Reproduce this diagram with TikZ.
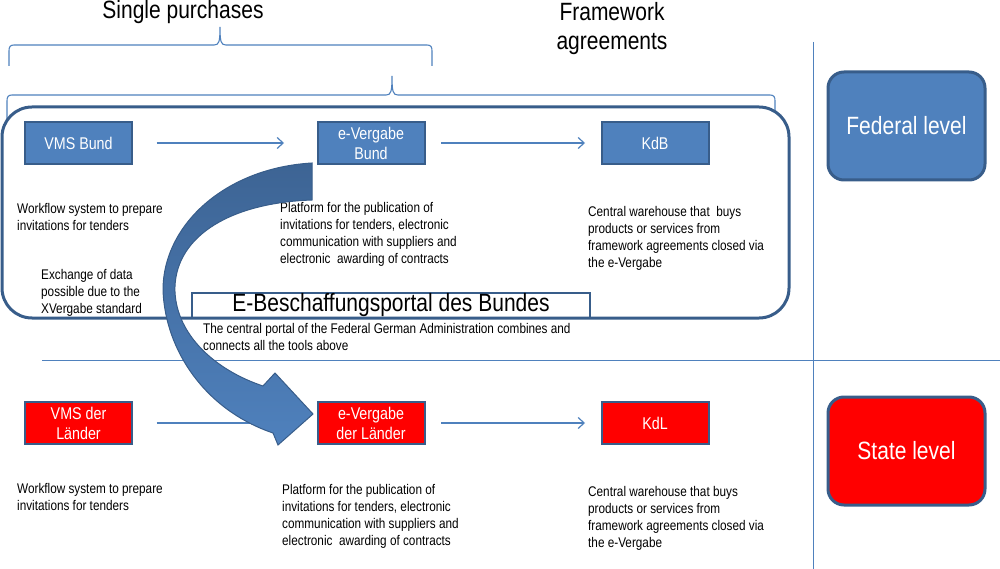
\documentclass[tikz,border=0pt]{standalone}
\usepackage{fontspec}
\setmainfont{Liberation Sans}[FakeStretch=0.84]
\usetikzlibrary{arrows.meta}
\definecolor{bfill}{HTML}{4F81BD}
\definecolor{bline}{HTML}{385D8A}
\definecolor{rfill}{HTML}{FF0000}
\definecolor{adark}{HTML}{3D6494}
\begin{document}
\begin{tikzpicture}[x=1pt,y=-1pt,
 tool/.style={draw=bline, line width=2pt, minimum width=107pt, minimum height=42pt, inner sep=0pt, align=center, text=white, font=\fontsize{17}{20}\selectfont},
 fedbox/.style={tool, fill=bfill},
 statebox/.style={tool, fill=rfill},
 desc/.style={anchor=north west, inner sep=0pt, align=left, font=\fontsize{14}{17}\selectfont},
 flow/.style={draw=bfill, line width=1.2pt, -{Straight Barb[length=6pt,width=11pt]}},
 bracepath/.style={draw=bfill, line width=1.1pt},
 levelbox/.style={draw=bline, line width=3pt, rounded corners=16pt, minimum width=157pt, minimum height=108pt, inner sep=0pt, text=white, font=\fontsize{25}{30}\selectfont},
 titletext/.style={font=\fontsize{25}{29}\selectfont, align=center, inner sep=0pt},
 divider/.style={draw=bfill, line width=1pt}
]
\useasboundingbox (0,0) rectangle (1000,569);

% titles
\node[titletext, anchor=base] (single) at (183,19) {Single purchases};
\node[titletext, anchor=north] (frame) at (612,2) {Framework\\agreements};

% braces
\draw[bracepath] (9,66) -- (9,51) .. controls (9,47) and (10,45) .. (14,45) -- (214,45)
  .. controls (219,45) and (220,42) .. (220,27) .. controls (220,42) and (221,45) .. (226,45)
  -- (427,45) .. controls (431,45) and (432,47) .. (432,51) -- (432,66);
\draw[bracepath] (7,120) -- (7,101) .. controls (7,97) and (8,95) .. (12,95) -- (386,95)
  .. controls (391,95) and (392,92) .. (392,76) .. controls (392,92) and (393,95) .. (398,95)
  -- (770,95) .. controls (774,95) and (775,97) .. (775,101) -- (775,113);

% dividers
\draw[divider] (813,42) -- (813,569);
\draw[divider] (42,360) -- (1000,360);

% portal box (under the container line)
\node[draw=bline, line width=2.5pt, fill=white, minimum width=398pt, minimum height=25pt,
      inner sep=0pt, font=\fontsize{25}{30}\selectfont] (portal) at (391,305.5) {E-Beschaffungsportal des Bundes};

% federal container
\draw[bline, line width=3pt, rounded corners=30pt] (2,107) rectangle (789,318);

% federal tools
\node[fedbox] (vmsb) at (78.5,143) {VMS Bund};
\node[fedbox] (evb) at (371,143) {e-Vergabe\\Bund};
\node[fedbox] (kdb) at (655,143) {KdB};

% state tools
\node[statebox] (vmsl) at (78.5,423) {VMS der\\Länder};
\node[statebox] (evl) at (371,423) {e-Vergabe\\der Länder};
\node[statebox] (kdl) at (655,423) {KdL};

% levels
\node[levelbox, fill=bfill] (federal) at (906.5,126) {Federal level};
\node[levelbox, fill=rfill] (state) at (906.5,451) {State level};

% flows
\draw[flow] ([xshift=23.5pt]vmsb.east) -- ([xshift=-32.5pt]evb.west);
\draw[flow] ([xshift=15.5pt]evb.east) -- ([xshift=-15.5pt]kdb.west);
\draw[flow] ([xshift=23.5pt]vmsl.east) -- ([xshift=-32.5pt]evl.west);
\draw[flow] ([xshift=15.5pt]evl.east) -- ([xshift=-15.5pt]kdl.west);

% descriptions
\node[desc] (d1) at (17,203) {Workflow system to prepare\\invitations for tenders};
\node[desc] (d2) at (280,202) {Platform for the publication of\\invitations for tenders, electronic\\communication with suppliers and\\electronic~ awarding of contracts};
\node[desc] (d3) at (588,206) {Central warehouse that~ buys\\products or services from\\framework agreements closed via\\the e-Vergabe};
\node[desc] (d4) at (41,269) {Exchange of data\\possible due to the\\XVergabe standard};
\node[desc] (d5) at (203,323) {The central portal of the Federal German Administration combines and\\connects all the tools above};
\node[desc] (d6) at (17,483) {Workflow system to prepare\\invitations for tenders};
\node[desc] (d7) at (282,484) {Platform for the publication of\\invitations for tenders, electronic\\communication with suppliers and\\electronic~ awarding of contracts};
\node[desc] (d8) at (588,486) {Central warehouse that buys\\products or services from\\framework agreements closed via\\the e-Vergabe};

% big curved arrow
\path[draw=bline, line width=1pt, top color=adark, bottom color=bfill]
 (312,163) .. controls (225,168) and (163,225) .. (163,290)
 .. controls (165,350) and (205,410) .. (273,433)
 -- (278,445) -- (313,414) -- (275,373) -- (263,386)
 .. controls (215,370) and (177,335) .. (175,292)
 .. controls (173,240) and (225,203) .. (312,200) -- cycle;
\end{tikzpicture}
\end{document}
